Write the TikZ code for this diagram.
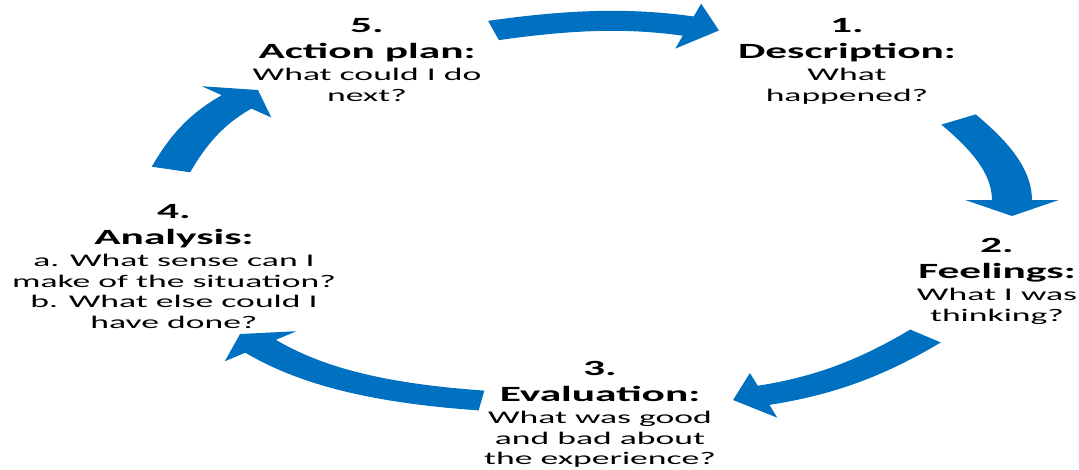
\documentclass[tikz,border=0pt]{standalone}
\usepackage{fontspec}
\setmainfont{Carlito}
\usepackage{tikz}
\usetikzlibrary{arrows.meta}

\definecolor{cycleblue}{HTML}{0070C0}
\newcommand{\stagehead}[1]{{\fontsize{21.7}{26}\selectfont\bfseries #1}}

\begin{document}
\begin{tikzpicture}[x=1pt, y=-1pt,
    stage/.style={anchor=north, align=center, inner sep=0pt, font=\fontsize{17.8}{20.5}\selectfont},
    cyclearrow/.style={draw=cycleblue, line width=20pt, -{Triangle[width=46pt,length=16pt]}, fill=none}]
    \useasboundingbox (0,0) rectangle (1079,469);

    \begin{scope}[transform canvas={xscale=2}, x=0.5pt]
    % stages
    \node[stage] (desc) at (847,18.5) {\stagehead{1.}\\[5.5pt]\stagehead{Description:}\\[1.5pt]What\\happened?};
    \node[stage] (feel) at (997,238.5) {\stagehead{2.}\\[5.5pt]\stagehead{Feelings:}\\[1.5pt]What I was\\thinking?};
    \node[stage] (eval) at (600,361.5) {\stagehead{3.}\\[5.5pt]\stagehead{Evaluation:}\\[1.5pt]What was good\\and bad about\\the experience?};
    \node[stage] (anal) at (174,204.5) {\stagehead{4.}\\[5.5pt]\stagehead{Analysis:}\\[1.5pt]a. What sense can I\\make of the situation?\\b. What else could I\\have done?};
    \node[stage] (plan) at (367,18.5) {\stagehead{5.}\\[5.5pt]\stagehead{Action plan:}\\[1.5pt]What could I do\\next?};

    % arrow ends
    \coordinate (a1) at (493.5,30.5);
    \coordinate (b1) at (719,30.5);
    \coordinate (a2) at (958.5,119.5);
    \coordinate (b2) at (1012,216);
    \coordinate (a3) at (925.5,336);
    \coordinate (b3) at (733,400);
    \coordinate (a4) at (481.5,400.5);
    \coordinate (b4) at (240,334);
    \coordinate (a5) at (171,169.5);
    \coordinate (b5) at (258,90);

    % arrows
    \draw[cyclearrow] (a1) to[out=16,in=164] (b1);   % 5 -> 1
    \draw[cyclearrow] (a2) to[out=-59,in=90] (b2);   % 1 -> 2
    \draw[cyclearrow] (a3) to[out=230,in=17] (b3);   % 2 -> 3
    \draw[cyclearrow] (a4) to[out=172,in=-50] (b4);  % 3 -> 4
    \draw[cyclearrow] (a5) to[out=74,in=228] (b5);   % 4 -> 5
    \end{scope}
\end{tikzpicture}
\end{document}
